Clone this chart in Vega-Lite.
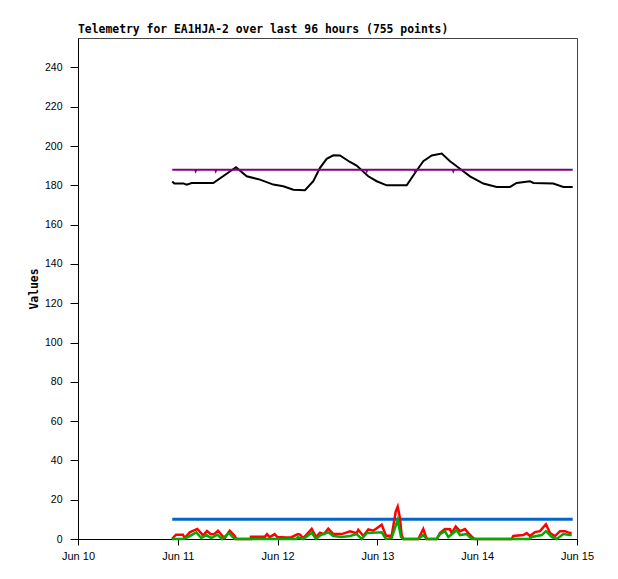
{
  "$schema": "https://vega.github.io/schema/vega-lite/v6.json",
  "width": 499,
  "height": 501,
  "autosize": {"type": "none"},
  "padding": {"left": 78, "top": 38, "right": 41, "bottom": 40},
  "background": "white",
  "title": {
    "text": "Telemetry for EA1HJA-2 over last 96 hours (755 points)",
    "anchor": "start",
    "frame": "group",
    "font": "DejaVu Sans Mono",
    "fontSize": 11.4,
    "fontWeight": "bold",
    "color": "#000",
    "offset": 3
  },
  "datasets": {
    "black": [
      {"t": "2024-06-10T22:40", "v": 182},
      {"t": "2024-06-10T23:10", "v": 181},
      {"t": "2024-06-11T01:20", "v": 181},
      {"t": "2024-06-11T02:08", "v": 180.3},
      {"t": "2024-06-11T03:20", "v": 181.2},
      {"t": "2024-06-11T08:32", "v": 181.2},
      {"t": "2024-06-11T14:00", "v": 189.2},
      {"t": "2024-06-11T16:34", "v": 184.6},
      {"t": "2024-06-11T19:46", "v": 182.9},
      {"t": "2024-06-11T22:58", "v": 180.4},
      {"t": "2024-06-12T01:22", "v": 179.5},
      {"t": "2024-06-12T03:47", "v": 177.8},
      {"t": "2024-06-12T06:35", "v": 177.5},
      {"t": "2024-06-12T08:35", "v": 182.1},
      {"t": "2024-06-12T10:12", "v": 188.9},
      {"t": "2024-06-12T11:48", "v": 193.5},
      {"t": "2024-06-12T13:24", "v": 195.3},
      {"t": "2024-06-12T15:00", "v": 195.2},
      {"t": "2024-06-12T17:24", "v": 191.9},
      {"t": "2024-06-12T19:00", "v": 190.1},
      {"t": "2024-06-12T21:48", "v": 184.6},
      {"t": "2024-06-12T23:50", "v": 182.1},
      {"t": "2024-06-13T02:14", "v": 180},
      {"t": "2024-06-13T07:03", "v": 180},
      {"t": "2024-06-13T09:02", "v": 186.3},
      {"t": "2024-06-13T11:02", "v": 192.3},
      {"t": "2024-06-13T13:04", "v": 195.2},
      {"t": "2024-06-13T15:28", "v": 196.2},
      {"t": "2024-06-13T17:28", "v": 192.3},
      {"t": "2024-06-13T19:04", "v": 189.7},
      {"t": "2024-06-13T22:16", "v": 184.6},
      {"t": "2024-06-14T01:28", "v": 180.9},
      {"t": "2024-06-14T04:41", "v": 179.2},
      {"t": "2024-06-14T07:53", "v": 179.2},
      {"t": "2024-06-14T09:30", "v": 181.2},
      {"t": "2024-06-14T12:42", "v": 182.1},
      {"t": "2024-06-14T13:30", "v": 181.2},
      {"t": "2024-06-14T18:18", "v": 180.9},
      {"t": "2024-06-14T20:42", "v": 179.2},
      {"t": "2024-06-14T22:58", "v": 179.2}
    ],
    "purple": [
      {"t": "2024-06-10T22:40", "v": 188},
      {"t": "2024-06-11T04:08", "v": 188},
      {"t": "2024-06-11T04:18", "v": 187.2},
      {"t": "2024-06-11T04:28", "v": 188},
      {"t": "2024-06-11T08:57", "v": 188},
      {"t": "2024-06-11T09:07", "v": 187.2},
      {"t": "2024-06-11T09:17", "v": 188},
      {"t": "2024-06-12T21:16", "v": 188},
      {"t": "2024-06-12T21:26", "v": 187.2},
      {"t": "2024-06-12T21:36", "v": 188},
      {"t": "2024-06-13T08:52", "v": 188},
      {"t": "2024-06-13T09:02", "v": 187.2},
      {"t": "2024-06-13T09:12", "v": 188},
      {"t": "2024-06-13T18:05", "v": 188},
      {"t": "2024-06-13T18:15", "v": 187.2},
      {"t": "2024-06-13T18:25", "v": 188},
      {"t": "2024-06-14T22:58", "v": 188}
    ],
    "blue": [
      {"t": "2024-06-10T22:40", "v": 10},
      {"t": "2024-06-14T22:58", "v": 10}
    ],
    "red": [
      {"t": "2024-06-10T22:36", "v": 0},
      {"t": "2024-06-10T23:34", "v": 2.2},
      {"t": "2024-06-11T01:15", "v": 2.2},
      {"t": "2024-06-11T01:40", "v": 0.5},
      {"t": "2024-06-11T02:52", "v": 3.4},
      {"t": "2024-06-11T04:41", "v": 5.1},
      {"t": "2024-06-11T05:39", "v": 2.9},
      {"t": "2024-06-11T06:04", "v": 1.7},
      {"t": "2024-06-11T07:01", "v": 4.1},
      {"t": "2024-06-11T07:55", "v": 2.4},
      {"t": "2024-06-11T08:42", "v": 2.4},
      {"t": "2024-06-11T09:40", "v": 4.2},
      {"t": "2024-06-11T10:38", "v": 1.7},
      {"t": "2024-06-11T11:17", "v": 0.5},
      {"t": "2024-06-11T12:29", "v": 4.2},
      {"t": "2024-06-11T13:41", "v": 1.5},
      {"t": "2024-06-11T14:04", "v": 0},
      {"t": "2024-06-11T17:32", "v": 0},
      {"t": "2024-06-11T17:36", "v": 1.2},
      {"t": "2024-06-11T20:58", "v": 1.2},
      {"t": "2024-06-11T21:27", "v": 2.5},
      {"t": "2024-06-11T22:06", "v": 1},
      {"t": "2024-06-11T23:18", "v": 2.5},
      {"t": "2024-06-11T23:56", "v": 1},
      {"t": "2024-06-12T02:01", "v": 0.8},
      {"t": "2024-06-12T03:13", "v": 0.8},
      {"t": "2024-06-12T04:54", "v": 2.5},
      {"t": "2024-06-12T05:23", "v": 2.2},
      {"t": "2024-06-12T06:11", "v": 0.5},
      {"t": "2024-06-12T08:12", "v": 5.1},
      {"t": "2024-06-12T09:14", "v": 1},
      {"t": "2024-06-12T10:12", "v": 3.2},
      {"t": "2024-06-12T11:10", "v": 2.5},
      {"t": "2024-06-12T12:11", "v": 5.3},
      {"t": "2024-06-12T13:24", "v": 2.5},
      {"t": "2024-06-12T15:25", "v": 2.5},
      {"t": "2024-06-12T17:25", "v": 3.9},
      {"t": "2024-06-12T19:01", "v": 2.9},
      {"t": "2024-06-12T19:24", "v": 4.7},
      {"t": "2024-06-12T20:36", "v": 1.5},
      {"t": "2024-06-12T21:49", "v": 4.9},
      {"t": "2024-06-12T23:01", "v": 4.2},
      {"t": "2024-06-13T01:02", "v": 7.3},
      {"t": "2024-06-13T02:04", "v": 1.7},
      {"t": "2024-06-13T03:26", "v": 1.7},
      {"t": "2024-06-13T04:24", "v": 13.9},
      {"t": "2024-06-13T04:53", "v": 16.5},
      {"t": "2024-06-13T05:26", "v": 10.5},
      {"t": "2024-06-13T05:50", "v": 2},
      {"t": "2024-06-13T06:14", "v": 0},
      {"t": "2024-06-13T09:50", "v": 0},
      {"t": "2024-06-13T11:02", "v": 5.1},
      {"t": "2024-06-13T11:51", "v": 0},
      {"t": "2024-06-13T14:16", "v": 0},
      {"t": "2024-06-13T15:03", "v": 3},
      {"t": "2024-06-13T16:15", "v": 5.1},
      {"t": "2024-06-13T17:28", "v": 5},
      {"t": "2024-06-13T17:52", "v": 3},
      {"t": "2024-06-13T18:50", "v": 6.3},
      {"t": "2024-06-13T19:52", "v": 4},
      {"t": "2024-06-13T21:04", "v": 5.1},
      {"t": "2024-06-13T21:52", "v": 3},
      {"t": "2024-06-13T23:04", "v": 0.5},
      {"t": "2024-06-13T23:28", "v": 0},
      {"t": "2024-06-14T08:18", "v": 0},
      {"t": "2024-06-14T08:41", "v": 1.5},
      {"t": "2024-06-14T11:05", "v": 2},
      {"t": "2024-06-14T11:54", "v": 3},
      {"t": "2024-06-14T12:42", "v": 1.5},
      {"t": "2024-06-14T13:54", "v": 3.5},
      {"t": "2024-06-14T15:06", "v": 4},
      {"t": "2024-06-14T16:32", "v": 7.5},
      {"t": "2024-06-14T17:30", "v": 3},
      {"t": "2024-06-14T18:43", "v": 1.5},
      {"t": "2024-06-14T19:55", "v": 4},
      {"t": "2024-06-14T21:07", "v": 4},
      {"t": "2024-06-14T22:19", "v": 3},
      {"t": "2024-06-14T22:43", "v": 3}
    ],
    "green": [
      {"t": "2024-06-10T22:36", "v": 0},
      {"t": "2024-06-11T01:15", "v": 0},
      {"t": "2024-06-11T02:27", "v": 1},
      {"t": "2024-06-11T04:27", "v": 3.4},
      {"t": "2024-06-11T05:39", "v": 0.5},
      {"t": "2024-06-11T06:51", "v": 2},
      {"t": "2024-06-11T08:03", "v": 0.5},
      {"t": "2024-06-11T09:30", "v": 2.2},
      {"t": "2024-06-11T10:38", "v": 0},
      {"t": "2024-06-11T12:19", "v": 3},
      {"t": "2024-06-11T13:41", "v": 0},
      {"t": "2024-06-12T04:30", "v": 0},
      {"t": "2024-06-12T04:54", "v": 1},
      {"t": "2024-06-12T05:23", "v": 0.5},
      {"t": "2024-06-12T06:11", "v": 0},
      {"t": "2024-06-12T08:12", "v": 3.2},
      {"t": "2024-06-12T09:14", "v": 0},
      {"t": "2024-06-12T10:22", "v": 2},
      {"t": "2024-06-12T12:11", "v": 3.4},
      {"t": "2024-06-12T13:24", "v": 1.5},
      {"t": "2024-06-12T15:25", "v": 1},
      {"t": "2024-06-12T17:25", "v": 1.5},
      {"t": "2024-06-12T19:01", "v": 2.5},
      {"t": "2024-06-12T20:13", "v": 0},
      {"t": "2024-06-12T21:26", "v": 3},
      {"t": "2024-06-13T01:02", "v": 3.4},
      {"t": "2024-06-13T02:04", "v": 0},
      {"t": "2024-06-13T03:26", "v": 0.5},
      {"t": "2024-06-13T04:53", "v": 9.7},
      {"t": "2024-06-13T05:41", "v": 1},
      {"t": "2024-06-13T06:14", "v": 0},
      {"t": "2024-06-13T09:50", "v": 0},
      {"t": "2024-06-13T11:02", "v": 2},
      {"t": "2024-06-13T11:51", "v": 0},
      {"t": "2024-06-13T14:16", "v": 0},
      {"t": "2024-06-13T15:03", "v": 2.5},
      {"t": "2024-06-13T16:15", "v": 4},
      {"t": "2024-06-13T17:03", "v": 1},
      {"t": "2024-06-13T19:04", "v": 4.5},
      {"t": "2024-06-13T19:52", "v": 2},
      {"t": "2024-06-13T21:28", "v": 2.5},
      {"t": "2024-06-13T22:41", "v": 0},
      {"t": "2024-06-14T12:30", "v": 0},
      {"t": "2024-06-14T13:06", "v": 1},
      {"t": "2024-06-14T15:31", "v": 2},
      {"t": "2024-06-14T16:32", "v": 4},
      {"t": "2024-06-14T17:55", "v": 1},
      {"t": "2024-06-14T19:07", "v": 0},
      {"t": "2024-06-14T20:43", "v": 2.5},
      {"t": "2024-06-14T22:19", "v": 2},
      {"t": "2024-06-14T22:43", "v": 2}
    ]
  },
  "encoding": {
    "x": {
      "field": "t",
      "type": "temporal",
      "scale": {
        "domain": [
          {"year": 2024, "month": 6, "date": 10},
          {"year": 2024, "month": 6, "date": 15}
        ],
        "nice": false
      },
      "axis": {
        "title": null,
        "format": "%b %d",
        "tickCount": {"interval": "day", "step": 1},
        "tickSize": 6,
        "labelPadding": 5,
        "labelFontSize": 11,
        "labelFlush": false,
        "labelOverlap": false
      }
    },
    "y": {
      "field": "v",
      "type": "quantitative",
      "scale": {"domain": [0, 255], "nice": false, "zero": true},
      "axis": {
        "title": "Values",
        "values": [0, 20, 40, 60, 80, 100, 120, 140, 160, 180, 200, 220, 240],
        "tickSize": 8,
        "labelPadding": 8,
        "titlePadding": 5
      }
    }
  },
  "layer": [
    {"data": {"name": "black"}, "mark": {"type": "line", "color": "#000000", "strokeWidth": 2}},
    {"data": {"name": "purple"}, "mark": {"type": "line", "color": "#800080", "strokeWidth": 2}},
    {"data": {"name": "blue"}, "mark": {"type": "line", "color": "#0066cc", "strokeWidth": 3}},
    {"data": {"name": "red"}, "mark": {"type": "line", "color": "#ff0000", "strokeWidth": 2.5}},
    {"data": {"name": "green"}, "mark": {"type": "line", "color": "#00aa00", "strokeWidth": 2.5}}
  ],
  "config": {
    "view": {"stroke": "#444444", "strokeWidth": 1},
    "axis": {
      "grid": false,
      "domainColor": "#000000",
      "tickColor": "#000000",
      "labelColor": "#000000",
      "labelFont": "Liberation Sans",
      "labelFontSize": 10.5,
      "titleFont": "DejaVu Sans Mono",
      "titleFontSize": 11.4,
      "titleFontWeight": "bold",
      "titleColor": "#000000"
    }
  }
}
